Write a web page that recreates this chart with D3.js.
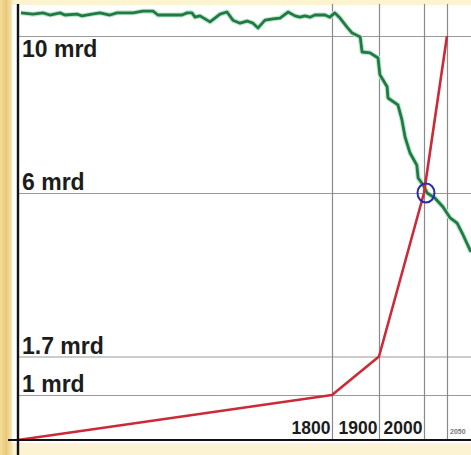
<!DOCTYPE html>
<html><head><meta charset="utf-8">
<script src="https://cdn.jsdelivr.net/npm/d3@7"></script>
<style>body{margin:0;background:#fff}svg{display:block}</style>
</head><body><svg id="c" width="471" height="455"></svg>
<script>
// ---- data ----
const popTicks = [1, 1.7, 6, 10];
const popLabels = ["1 mrd", "1.7 mrd", "6 mrd", "10 mrd"];
const yearTicks = [1800, 1900, 2000, 2050];
const yearLabels = ["1800", "1900", "2000", "2050"];
const redYears = [0, 1800, 1900, 2000, 2050];
const redPop = [0, 1, 1.7, 6, 10];
const greenYears = [17,86,143,183,241,269,338,367,424,470,527,567,659,716,774,802,940,969,997,1015,1043,1101,1158,1198,1232,1273,1313,1347,1376,1416,1462,1502,1548,1588,1616,1645,1674,1702,1760,1788,1806,1817,1832,1843,1860,1864,1881,1898,1902,1918,1920,1942,1951,1958,1969,1984,1987,1998,2007,2024,2041,2057,2072,2083,2102];
const greenValues = [99.1,98.8,99.1,98.6,99.1,98.6,98.8,98.4,98.8,99.1,98.6,99.1,99.1,99.5,99.5,98.6,98.6,99.1,99.1,98.1,98.4,97.0,98.8,99.3,97.4,96.7,97.2,96.7,95.6,97.4,97.7,97.9,99.3,98.4,98.1,98.4,98.1,98.6,98.6,98.1,99.1,97.9,95.8,94.4,93.5,90.0,89.8,88.6,84.7,81.9,79.3,77.7,74.2,70.2,66.5,63.7,60.7,59.1,57.2,56.0,54.0,51.4,50.2,47.9,43.5];
const markYear = 2000, markPop = 6;

// ---- scales ----
const W = 471, H = 455;
const x = d3.scaleLinear().domain([0, 1800, 1900, 2000, 2050]).range([18, 332, 379, 424, 447]);
const y = d3.scaleLinear().domain([0, 1, 1.7, 6, 10]).range([440, 395, 356.5, 193, 36]);
const yG = d3.scaleLinear().domain([0, 100]).range([439, 9]);

const svg = d3.select("#c");
const defs = svg.append("defs");
const lg = defs.append("linearGradient").attr("id", "gold").attr("x1", 0).attr("x2", 1);
lg.append("stop").attr("offset", 0).attr("stop-color", "#f3dc98");
lg.append("stop").attr("offset", 0.5).attr("stop-color", "#e9c978");
lg.append("stop").attr("offset", 1).attr("stop-color", "#f8ecc4");

// background
svg.append("rect").attr("width", W).attr("height", H).attr("fill", "#fcf3d2");
svg.append("rect").attr("x", 0).attr("y", 0).attr("width", 13).attr("height", H).attr("fill", "url(#gold)");
svg.append("rect").attr("x", 12).attr("y", 5).attr("width", W - 12).attr("height", 438).attr("fill", "#ffffff");

// horizontal gridlines
const gy = svg.append("g").attr("transform", "translate(18,0)")
  .call(d3.axisRight(y).tickValues(popTicks).tickSize(W - 18).tickFormat(""));
gy.select(".domain").remove();
gy.selectAll(".tick line").attr("stroke", "#9a9a9a").attr("stroke-width", 1.2);

// vertical gridlines
const gx = svg.append("g").attr("transform", "translate(0,440)")
  .call(d3.axisTop(x).tickValues(yearTicks).tickSize(436).tickFormat(""));
gx.select(".domain").remove();
gx.selectAll(".tick line").attr("stroke", "#8a8a8a").attr("stroke-width", 1.2);

// y labels
svg.append("g").selectAll("text").data(popTicks).join("text")
  .attr("x", 22)
  .attr("y", (d) => d === 10 ? y(d) + 21 : y(d) - 3)
  .attr("font-family", "Liberation Sans, Arial, sans-serif")
  .attr("font-weight", "bold").attr("font-size", 23).attr("fill", "#1c1c1c")
  .text((d, i) => popLabels[i]);

// x labels
svg.append("g").selectAll("text").data(yearTicks).join("text")
  .attr("x", (d) => d === 2050 ? x(d) + 3 : x(d) - 1.5)
  .attr("y", 434)
  .attr("text-anchor", (d) => d === 2050 ? "start" : "end")
  .attr("font-family", "Liberation Sans, Arial, sans-serif")
  .attr("font-weight", "bold")
  .attr("font-size", (d) => d === 2050 ? 7 : 17.5)
  .attr("fill", (d) => d === 2050 ? "#777" : "#1c1c1c")
  .text((d, i) => yearLabels[i]);

// green line
const gData = greenYears.map((yr, i) => [yr, greenValues[i]]);
const gLine = d3.line().x((d) => x(d[0])).y((d) => yG(d[1]));
svg.append("path").datum(gData).attr("d", gLine).attr("fill", "none")
  .attr("stroke", "#bfe6cc").attr("stroke-width", 5).attr("stroke-linejoin", "round");
svg.append("path").datum(gData).attr("d", gLine).attr("fill", "none")
  .attr("stroke", "#1f7a45").attr("stroke-width", 2.8).attr("stroke-linejoin", "round");

// red line
const rData = redYears.map((yr, i) => [yr, redPop[i]]);
svg.append("path").datum(rData)
  .attr("d", d3.line().x((d) => x(d[0])).y((d) => y(d[1])))
  .attr("fill", "none").attr("stroke", "#cc2a36").attr("stroke-width", 2.6)
  .attr("stroke-linejoin", "round");

// axes lines
svg.append("line").attr("x1", 8).attr("x2", W).attr("y1", 440).attr("y2", 440)
  .attr("stroke", "#111").attr("stroke-width", 2.2);
svg.append("line").attr("x1", 18).attr("x2", 18).attr("y1", 4).attr("y2", H)
  .attr("stroke", "#111").attr("stroke-width", 2.4);

// marker circle
svg.append("ellipse").attr("cx", x(markYear) + 2).attr("cy", y(markPop))
  .attr("rx", 8.5).attr("ry", 9.5).attr("fill", "none")
  .attr("stroke", "#2b2bb0").attr("stroke-width", 2);
</script></body></html>
